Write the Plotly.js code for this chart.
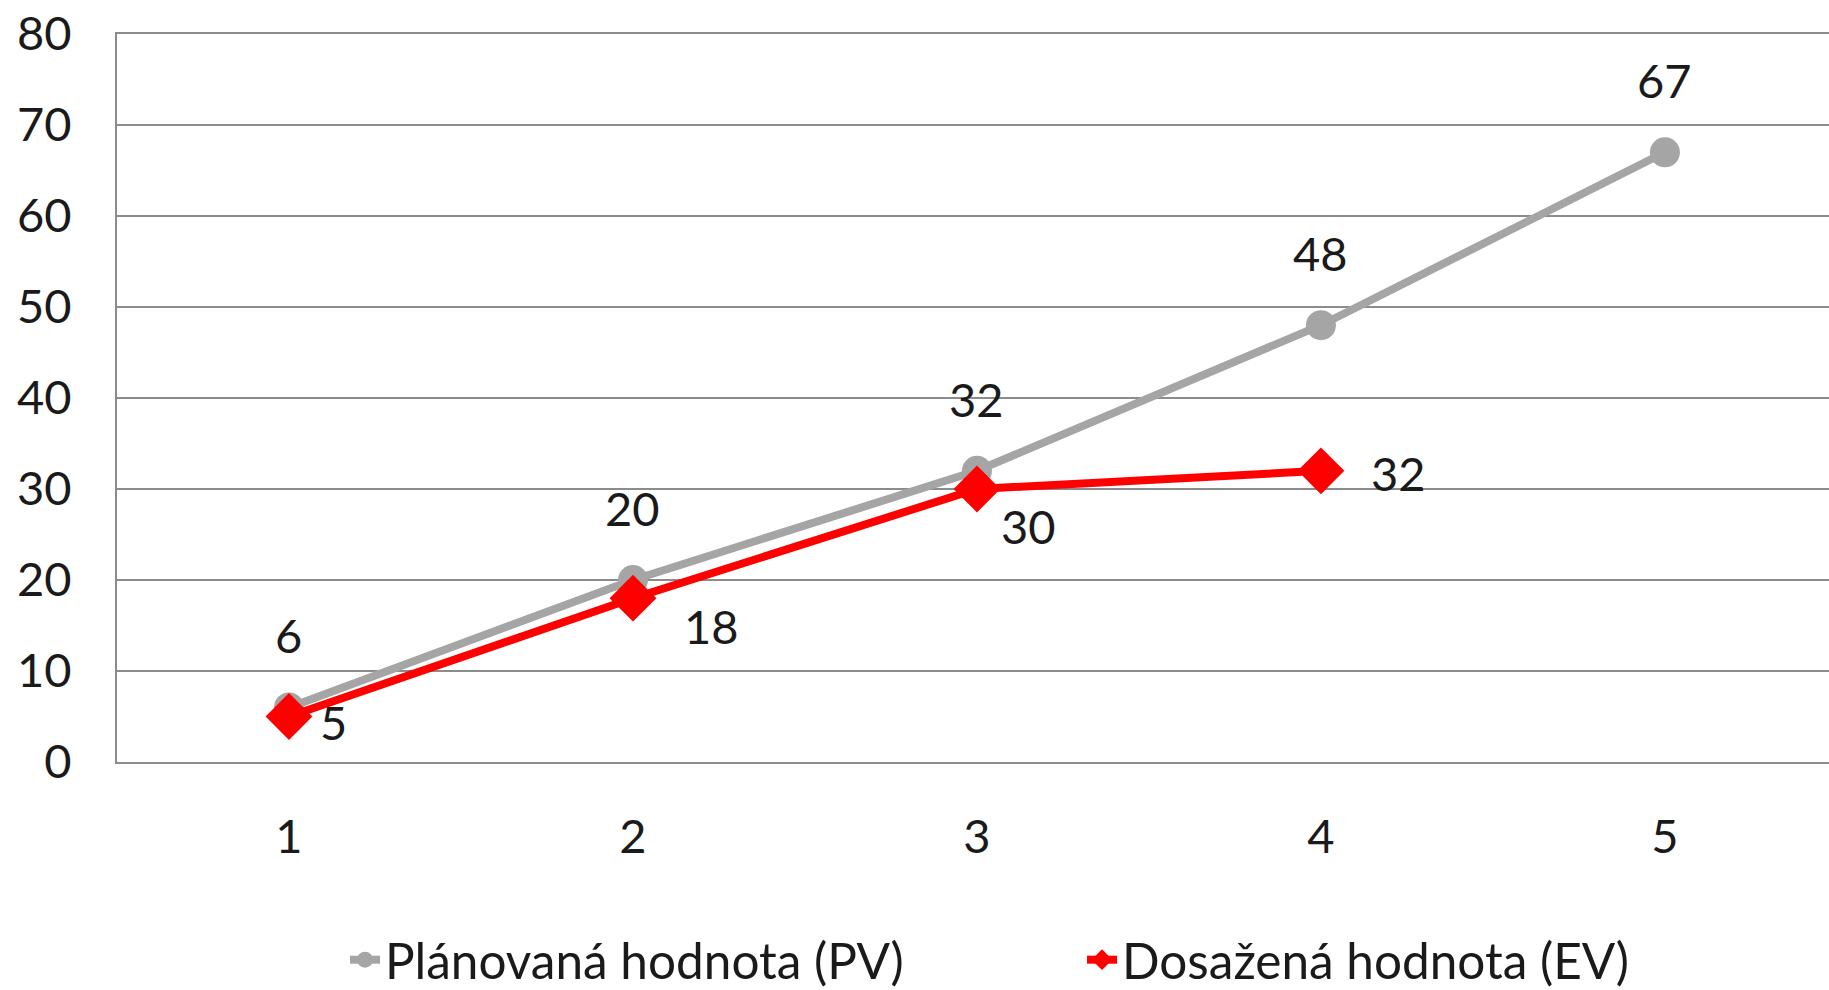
<!DOCTYPE html>
<html>
<head>
<meta charset="utf-8">
<script src="https://cdn.plot.ly/plotly-3.0.1.min.js"></script>
<style>html,body{margin:0;padding:0;overflow:hidden;background:#fff;}#chart{width:1829px;height:990px;}</style>
</head>
<body>
<div id="chart"></div>
<script>
// Data
const categories = [1, 2, 3, 4, 5];
const pvName = "Plánovaná hodnota (PV)";
const evName = "Dosažená hodnota (EV)";
const pvValues = [6, 20, 32, 48, 67];
const evValues = [5, 18, 30, 32];
const yTicks = [0, 10, 20, 30, 40, 50, 60, 70, 80];

const FONT = "Lato, 'Open Sans', sans-serif";
const TXT = "#1a1a1a";

const pvTrace = {
  x: categories, y: pvValues, name: pvName, type: "scatter", mode: "lines+markers",
  line: {color: "#A5A5A5", width: 8},
  marker: {symbol: "circle", size: 30, color: "#A5A5A5"},
  hoverinfo: "skip"
};
const evTrace = {
  x: categories.slice(0, evValues.length), y: evValues, name: evName, type: "scatter", mode: "lines+markers",
  line: {color: "#FF0000", width: 8},
  marker: {symbol: "diamond", size: 36, color: "#FF0000"},
  hoverinfo: "skip"
};

// label offsets (style)
const evShift = [[45, -5], [79, -28], [52, -37], [78, -2]];
const annotations = [];
pvValues.forEach((v, i) => annotations.push({
  x: categories[i], y: v, text: String(v), showarrow: false,
  yshift: 72, font: {family: FONT, size: 47, color: TXT}
}));
evValues.forEach((v, i) => annotations.push({
  x: categories[i], y: v, text: String(v), showarrow: false,
  xshift: evShift[i][0], yshift: evShift[i][1], font: {family: FONT, size: 47, color: TXT}
}));

const layout = {
  width: 1829, height: 990,
  margin: {l: 117, r: 0, t: 34, b: 228, pad: 0, autoexpand: false},
  paper_bgcolor: "#fff", plot_bgcolor: "#fff",
  font: {family: FONT, size: 47, color: TXT},
  showlegend: true,
  legend: {
    orientation: "h", x: (345 - 117) / 1712, xanchor: "left", y: -0.272, yanchor: "middle",
    entrywidth: 692, entrywidthmode: "pixels", itemsizing: "trace",
    font: {family: FONT, size: 49.5, color: TXT}, bgcolor: "rgba(0,0,0,0)"
  },
  xaxis: {
    range: [0.5, 5.477], tickvals: categories, ticktext: categories.map(String),
    showgrid: false, zeroline: false, showline: true, mirror: true, linecolor: "#8c8c8c", linewidth: 2,
    ticks: "", ticklabelstandoff: 33, automargin: false, fixedrange: true
  },
  yaxis: {
    range: [0, 80], tickvals: yTicks, showgrid: true, gridcolor: "#8c8c8c", gridwidth: 2,
    zeroline: false, showline: true, linecolor: "#8c8c8c", linewidth: 2,
    ticks: "", ticklabelstandoff: 34, automargin: false, fixedrange: true
  },
  annotations: annotations
};

Plotly.newPlot("chart", [pvTrace, evTrace], layout, {displayModeBar: false, staticPlot: true});
</script>
</body>
</html>
